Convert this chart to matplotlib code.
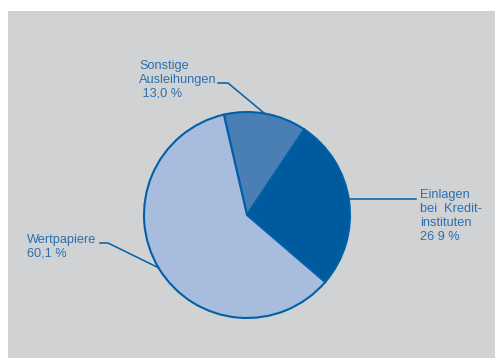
import matplotlib
matplotlib.use("Agg")
import matplotlib.pyplot as plt
from matplotlib.patches import Rectangle

labels = ["Sonstige\nAusleihungen\n 13,0 %", "Einlagen\nbei  Kredit-\ninstituten\n26 9 %", "Wertpapiere\n60,1 %"]
values = [13.0, 26.9, 60.1]
colors = ["#4a7fb6", "#005a9e", "#a8bddd"]

W, H = 495, 358
fig = plt.figure(figsize=(W / 100, H / 100), dpi=100)
ax = fig.add_axes([0, 0, 1, 1])
ax.add_patch(Rectangle((8, 0), W - 8, H - 11, facecolor="#d1d2d4", edgecolor="none", zorder=0))

edge = "#0060a8"
ax.pie(values, colors=colors, startangle=103, counterclock=False,
       center=(247, H - 215), radius=103,
       wedgeprops=dict(edgecolor=edge, linewidth=1.5), frame=True)
ax.set_xlim(0, W)
ax.set_ylim(0, H)
ax.set_aspect("equal")
ax.axis("off")

tc = "#2a6fb0"
fs = 9.2
fam = "Liberation Sans"
ls = 1.22
# Sonstige
ax.text(139, H - 60, labels[0], color=tc, fontsize=fs, family=fam, va="top", ha="left", linespacing=ls)
ax.plot([218, 228, 264], [H - 83, H - 83, H - 113], color=edge, lw=1.1)
# Einlagen
ax.text(420, H - 189, labels[1], color=tc, fontsize=fs, family=fam, va="top", ha="left", linespacing=ls)
ax.plot([349, 416], [H - 199, H - 199], color=edge, lw=1.1)
# Wertpapiere
ax.text(27, H - 234, labels[2], color=tc, fontsize=fs, family=fam, va="top", ha="left", linespacing=ls)
ax.plot([100, 108, 159], [H - 243, H - 243, H - 268], color=edge, lw=1.1)

fig.savefig("out.png", dpi=100, facecolor="white")
